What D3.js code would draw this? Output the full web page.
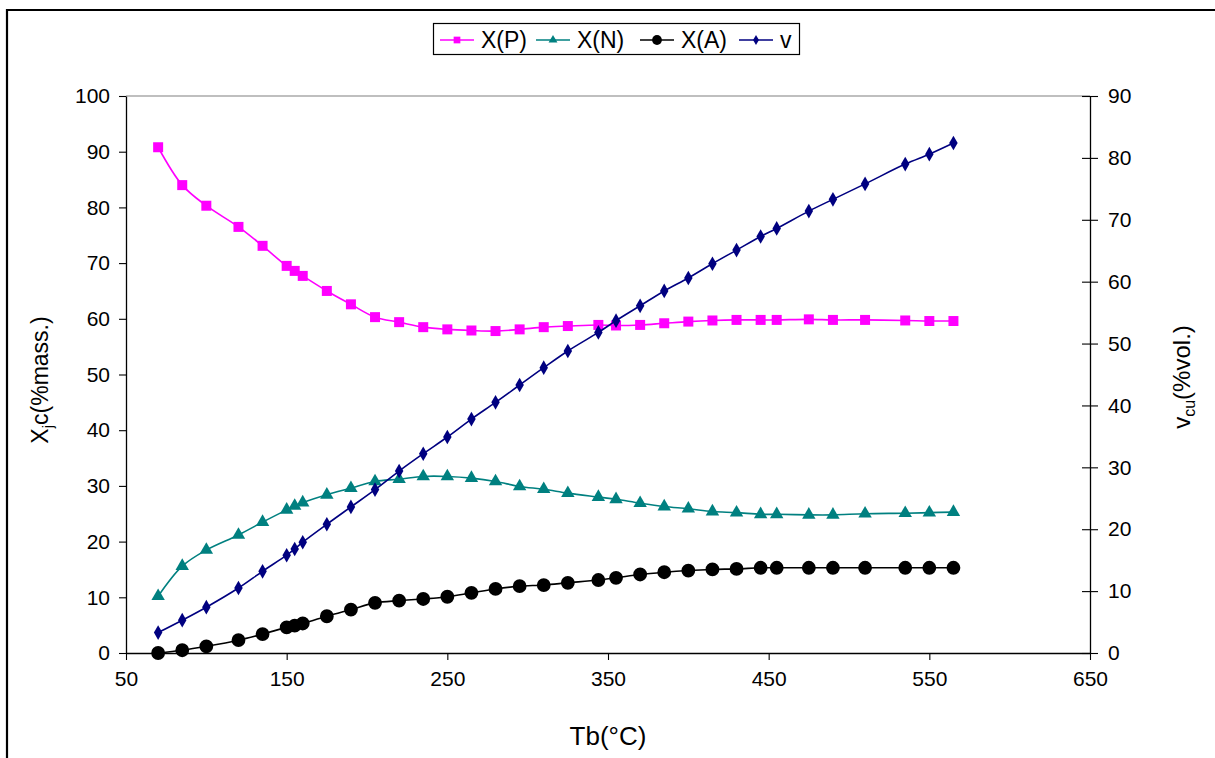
<!DOCTYPE html>
<html>
<head>
<meta charset="utf-8">
<script src="https://cdn.jsdelivr.net/npm/d3@7"></script>
<style>
    body { margin: 0; background: #fff; }
    svg text { font-family: "Liberation Sans", Arial, sans-serif; fill: #000; }
</style>
</head>
<body>
<svg id="chart" width="1215" height="758"></svg>
<script>
// boiling temperature of each cut
var tb = [70, 85, 100, 120, 135, 150, 155, 160, 175, 190, 205, 220, 235, 250, 265, 280, 295,
    310, 325, 344, 355, 370, 385, 400, 415, 430, 445, 455, 475, 490, 510, 535, 550, 565];
var xP = [90.8, 84.0, 80.3, 76.5, 73.1, 69.5, 68.6, 67.7, 65.0, 62.6, 60.3, 59.4, 58.5, 58.1, 57.9, 57.8, 58.1,
    58.5, 58.7, 58.9, 58.8, 58.9, 59.2, 59.5, 59.7, 59.8, 59.8, 59.8, 59.9, 59.8, 59.8, 59.7, 59.6, 59.6];
var xN = [10.2, 15.6, 18.5, 21.2, 23.5, 25.7, 26.4, 27.0, 28.4, 29.6, 30.8, 31.2, 31.7, 31.7, 31.4, 30.8, 29.9,
    29.4, 28.7, 28.0, 27.6, 26.9, 26.3, 25.9, 25.4, 25.2, 24.9, 24.9, 24.8, 24.8, 25.0, 25.1, 25.2, 25.3];
var xA = [0.0, 0.5, 1.2, 2.3, 3.4, 4.6, 4.9, 5.3, 6.6, 7.8, 9.0, 9.4, 9.7, 10.1, 10.8, 11.5, 12.0,
    12.2, 12.6, 13.1, 13.5, 14.1, 14.5, 14.8, 15.0, 15.1, 15.3, 15.3, 15.3, 15.3, 15.3, 15.3, 15.3, 15.3];
var vCu = [3.3, 5.3, 7.4, 10.5, 13.2, 15.8, 16.8, 17.9, 20.8, 23.6, 26.4, 29.4, 32.2, 34.9, 37.8, 40.5, 43.3,
    46.1, 48.8, 51.8, 53.7, 56.1, 58.5, 60.6, 62.9, 65.1, 67.3, 68.6, 71.4, 73.3, 75.8, 79.0, 80.6, 82.4];

var xTicks = [50, 150, 250, 350, 450, 550, 650];
var leftTicks = d3.range(0, 101, 10);
var rightTicks = d3.range(0, 91, 10);

var series = [
    {name: "X(P)", values: xP, axis: "left", color: "#FF00FF", symbol: d3.symbolSquare, size: 100, legSize: 45},
    {name: "X(N)", values: xN, axis: "left", color: "#008080", symbol: d3.symbolTriangle, size: 78, legSize: 34},
    {name: "X(A)", values: xA, axis: "left", color: "#000000", symbol: d3.symbolCircle, size: 150, legSize: 75},
    {name: "v", values: vCu, axis: "right", color: "#000080", symbol: d3.symbolDiamond, size: 62, legSize: 30}
];

var svg = d3.select("#chart");
var plotLeft = 126, plotRight = 1090, plotTop = 96, plotBottom = 653;

var x = d3.scaleLinear().domain([50, 650]).range([plotLeft, plotRight]);
var yL = d3.scaleLinear().domain([0, 100]).range([plotBottom, plotTop]);
var yR = d3.scaleLinear().domain([0, 90]).range([plotBottom, plotTop]);

// outer frame (only the top and left edges fall inside the page)
svg.append("path")
    .attr("d", "M7,758V10H1215")
    .attr("fill", "none")
    .attr("stroke", "#000")
    .attr("stroke-width", 2.2);

// plot area top edge
svg.append("line")
    .attr("x1", plotLeft).attr("x2", plotRight)
    .attr("y1", plotTop).attr("y2", plotTop)
    .attr("stroke", "#808080")
    .attr("stroke-width", 1.2);

// axes
var gx = svg.append("g")
    .attr("transform", "translate(0," + plotBottom + ")")
    .call(d3.axisBottom(x).tickValues(xTicks).tickSize(7).tickSizeOuter(0).tickPadding(6));
var gl = svg.append("g")
    .attr("transform", "translate(" + plotLeft + ",0)")
    .call(d3.axisLeft(yL).tickValues(leftTicks).tickSize(7).tickSizeOuter(0).tickPadding(9));
var gr = svg.append("g")
    .attr("transform", "translate(" + plotRight + ",0)")
    .call(d3.axisRight(yR).tickValues(rightTicks).tickSize(8).tickSizeOuter(0).tickPadding(10));
gr.selectAll(".tick line").attr("x1", -8);

[gx, gl, gr].forEach(function (g) {
    g.select(".domain").attr("stroke", "#000").attr("stroke-width", 1.3);
    g.selectAll(".tick line").attr("stroke", "#000").attr("stroke-width", 1.1);
    g.selectAll(".tick text")
        .attr("font-size", 21)
        .attr("font-family", "'Liberation Sans', Arial, sans-serif");
});
gx.selectAll(".tick text").attr("dy", "0.95em");

// axis titles
svg.append("text")
    .attr("x", 608).attr("y", 745)
    .attr("text-anchor", "middle")
    .attr("font-size", 26)
    .text("Tb(°C)");

var lt = svg.append("text")
    .attr("transform", "translate(48,380) rotate(-90)")
    .attr("text-anchor", "middle")
    .attr("font-size", 23);
lt.append("tspan").text("X");
lt.append("tspan").attr("dy", 5).attr("font-size", 15).text("j");
lt.append("tspan").attr("dy", -5).text("c(%mass.)");

var rt = svg.append("text")
    .attr("transform", "translate(1190,377) rotate(-90)")
    .attr("text-anchor", "middle")
    .attr("font-size", 24);
rt.append("tspan").text("v");
rt.append("tspan").attr("dy", 5).attr("font-size", 16).text("cu");
rt.append("tspan").attr("dy", -5).text("(%vol.)");

// series lines and markers
var plot = svg.append("g");
series.forEach(function (s) {
    var y = s.axis === "left" ? yL : yR;
    var pts = tb.map(function (t, i) { return [x(t), y(s.values[i])]; });
    plot.append("path")
        .datum(pts)
        .attr("fill", "none")
        .attr("stroke", s.color)
        .attr("stroke-width", 1.6)
        .attr("d", d3.line().curve(d3.curveCatmullRom.alpha(0.5)));
    plot.append("g").selectAll("path")
        .data(pts)
        .join("path")
        .attr("transform", function (d) { return "translate(" + d[0] + "," + d[1] + ")"; })
        .attr("d", d3.symbol().type(s.symbol).size(s.size))
        .attr("fill", s.color);
});

// legend
var legend = svg.append("g");
legend.append("rect")
    .attr("x", 433.5).attr("y", 23.5)
    .attr("width", 366).attr("height", 31)
    .attr("fill", "#fff")
    .attr("stroke", "#000")
    .attr("stroke-width", 1.2);
var legX = [440, 536, 640, 739];
series.forEach(function (s, i) {
    var g = legend.append("g").attr("transform", "translate(" + legX[i] + ",40)");
    g.append("line")
        .attr("x1", 0).attr("x2", 34)
        .attr("stroke", s.color)
        .attr("stroke-width", 1.6);
    g.append("path")
        .attr("transform", "translate(17,0)")
        .attr("d", d3.symbol().type(s.symbol).size(s.legSize))
        .attr("fill", s.color);
    g.append("text")
        .attr("x", 41).attr("y", 0)
        .attr("dy", "0.36em")
        .attr("font-size", 23)
        .text(s.name);
});
</script>
</body>
</html>
